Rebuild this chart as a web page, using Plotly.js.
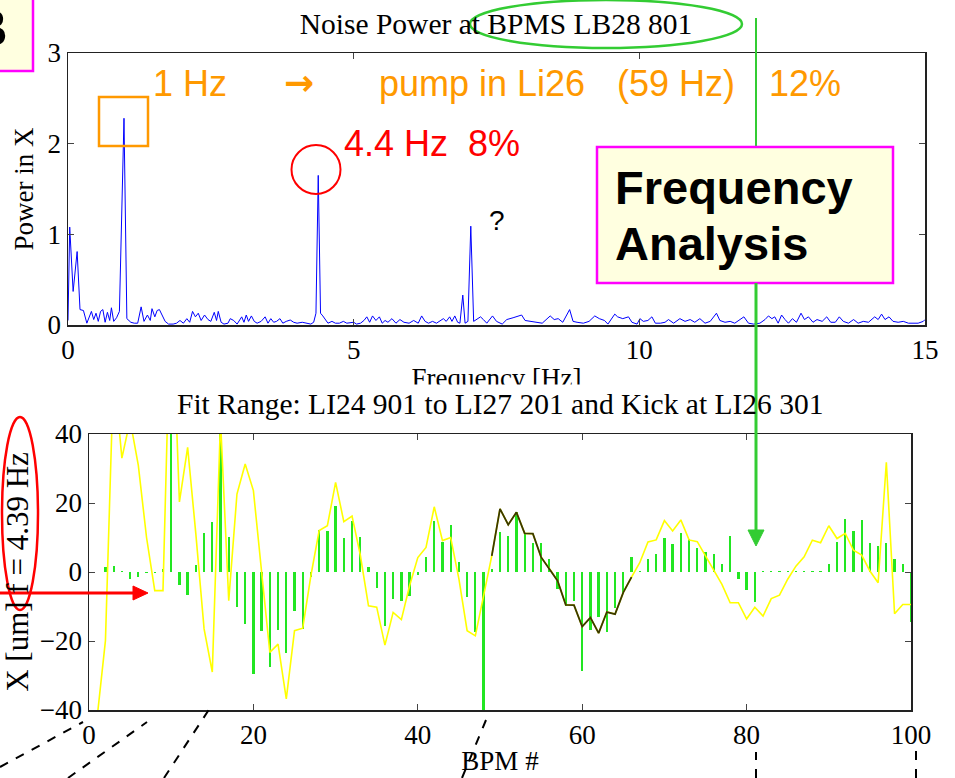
<!DOCTYPE html>
<html>
<head>
<meta charset="utf-8">
<script src="https://cdn.plot.ly/plotly-3.0.1.min.js"></script>
<style>html,body{margin:0;padding:0;background:#fff;}#chart{width:955px;height:778px;}</style>
</head>
<body>
<div id="chart"></div>
<script>
// ---- Top panel: noise power spectrum ----
const freqHz = [0.00,0.03,0.09,0.16,0.21,0.27,0.33,0.41,0.45,0.49,0.53,0.57,0.61,0.65,0.69,0.73,0.76,0.80,0.85,0.90,0.98,1.03,1.10,1.16,1.22,1.28,1.33,1.39,1.44,1.47,1.52,1.56,1.60,1.65,1.70,1.76,1.84,1.90,1.96,2.02,2.08,2.13,2.18,2.23,2.28,2.33,2.39,2.45,2.50,2.56,2.60,2.63,2.68,2.73,2.80,2.84,2.90,2.96,3.04,3.08,3.12,3.16,3.21,3.26,3.31,3.38,3.45,3.50,3.55,3.60,3.65,3.71,3.76,3.82,3.89,3.95,4.01,4.10,4.18,4.25,4.30,4.34,4.38,4.42,4.46,4.50,4.55,4.62,4.68,4.75,4.82,4.88,4.95,5.00,5.05,5.12,5.18,5.23,5.28,5.33,5.39,5.45,5.50,5.55,5.60,5.67,5.74,5.81,5.88,5.97,6.05,6.13,6.19,6.25,6.31,6.38,6.45,6.52,6.57,6.62,6.68,6.72,6.77,6.82,6.86,6.91,6.95,7.00,7.05,7.10,7.16,7.22,7.27,7.33,7.43,7.50,7.60,7.68,7.79,7.85,7.94,8.00,8.08,8.17,8.30,8.44,8.51,8.58,8.66,8.78,8.84,8.91,9.02,9.12,9.22,9.30,9.39,9.45,9.57,9.62,9.71,9.81,9.87,9.96,10.01,10.07,10.15,10.22,10.28,10.37,10.45,10.51,10.60,10.71,10.80,10.89,10.97,11.06,11.15,11.24,11.35,11.41,11.50,11.59,11.67,11.83,11.91,12.00,12.11,12.20,12.26,12.32,12.37,12.43,12.49,12.55,12.61,12.68,12.75,12.83,12.89,12.96,13.04,13.11,13.20,13.28,13.35,13.43,13.50,13.57,13.66,13.75,13.83,13.92,14.01,14.12,14.18,14.24,14.30,14.37,14.44,14.53,14.62,14.71,14.80,14.88,14.97,15.00];
const powerX = [0.05,1.08,0.37,0.81,0.17,0.16,0.02,0.15,0.06,0.13,0.04,0.15,0.17,0.03,0.14,0.05,0.19,0.04,0.08,0.15,2.28,0.07,0.03,0.02,0.02,0.20,0.04,0.11,0.05,0.18,0.09,0.16,0.17,0.10,0.04,0.01,0.01,0.02,0.05,0.02,0.07,0.03,0.15,0.09,0.13,0.05,0.11,0.06,0.04,0.14,0.05,0.15,0.03,0.01,0.02,0.07,0.05,0.01,0.09,0.03,0.11,0.04,0.10,0.04,0.02,0.04,0.09,0.02,0.07,0.03,0.04,0.07,0.02,0.04,0.055,0.03,0.02,0.03,0.02,0.01,0.03,0.13,1.65,0.13,0.10,0.06,0.02,0.04,0.02,0.02,0.04,0.02,0.03,0.03,0.01,0.02,0.05,0.09,0.03,0.10,0.05,0.09,0.02,0.05,0.03,0.07,0.02,0.06,0.03,0.02,0.05,0.02,0.10,0.04,0.02,0.04,0.02,0.05,0.07,0.04,0.09,0.04,0.10,0.03,0.02,0.33,0.02,0.04,1.09,0.04,0.07,0.09,0.06,0.02,0.10,0.04,0.01,0.06,0.08,0.09,0.11,0.05,0.04,0.03,0.02,0.10,0.06,0.07,0.03,0.17,0.04,0.03,0.02,0.04,0.10,0.07,0.05,0.01,0.12,0.09,0.07,0.09,0.03,0.01,0.07,0.04,0.05,0.09,0.02,0.02,0.03,0.06,0.02,0.07,0.04,0.06,0.03,0.07,0.02,0.04,0.13,0.05,0.03,0.04,0.02,0.09,0.02,0.01,0.02,0.06,0.10,0.07,0.09,0.02,0.11,0.06,0.02,0.07,0.03,0.13,0.06,0.09,0.03,0.06,0.04,0.09,0.03,0.03,0.09,0.04,0.02,0.06,0.02,0.04,0.03,0.09,0.06,0.12,0.06,0.09,0.04,0.03,0.04,0.02,0.02,0.02,0.04,0.06];
const freqTicks = [0,5,10,15];
const powerTicks = [0,1,2,3];

// ---- Bottom panel: orbit at f = 4.39 Hz ----
const bpmNum = [1,2,3,4,5,6,7,8,9,10,11,12,13,14,15,16,17,18,19,20,21,22,23,24,25,26,27,28,29,30,31,32,33,34,35,36,37,38,39,40,41,42,43,44,45,46,47,48,49,50,51,52,53,54,55,56,57,58,59,60,61,62,63,64,65,66,67,68,69,70,71,72,73,74,75,76,77,78,79,80,81,82,83,84,85,86,87,88,89,90,91,92,93,94,95,96,97,98,99,100];
const orbitX = [-42,-19.9,58.9,33,44,30.9,10,-5.4,-5.4,85,20.3,36.1,11,-16.5,-29,44,-8.3,22.6,31.3,23.6,0,-23.3,-20.9,-36.8,-17,-16.3,-1,12,13.4,26,14.6,16.2,5,-9.8,-10.2,-21.2,-11.7,-13.8,-4,4.2,7.1,18.9,9.1,10,-2,-17,-18.5,-7,4.7,18.3,13.7,17.3,11.2,11.1,4.3,1,-2.5,-9.5,-9.6,-15.8,-13.2,-17.7,-11.6,-12.2,-5.9,-1.5,2.7,8.7,9.3,14.9,11.9,15.1,9.3,8.8,4.7,0.3,-3.6,-8.9,-8.9,-13.6,-10.2,-12.8,-7.7,-6.7,-2.1,1.7,4.4,9.2,8.5,13.4,9.7,11.2,6.3,4.9,0.3,-3.1,31.8,-12.1,-9.4,-9.4];
const stemX = [0,1.5,1.7,0.3,-2,-1.5,-0.3,-0.3,1,60,-3.8,-6.7,2,11.3,14.5,60,10.2,-10.2,-15,-29.6,-17,-27.4,-16.7,-23.5,-11.2,-16.4,-1.5,12.1,11.8,19.2,10,14.9,10.2,1.5,-4.6,-15.7,-7.7,-8.4,-7,-1,4.4,14.9,8.8,13.6,3,-7.3,-17.4,-60,1,11.5,10.5,17.3,11,8.3,8.5,3.7,-4.8,-9.9,-8.4,-28.6,-16.7,-13.1,-17.4,-10.4,-6,4.4,0.3,3.7,5.1,10,8,11.3,9.5,6.9,5.9,5.1,2.2,10.5,-2.1,-5.3,-8.7,0.4,0.4,0.4,0.4,0.4,0.4,0.4,0.4,2.4,8.8,15.5,11.9,15.1,8.3,7.6,8.3,3.9,2.4,-14.5];
const fitBpm = [49,50,51,52,53,54,55,56,57,58,59,60,61,62,63,64,65,66];
const fitX = [4.7,18.3,13.7,17.3,11.2,11.1,4.3,1,-2.5,-9.5,-9.6,-15.8,-13.2,-17.7,-11.6,-12.2,-5.9,-1.5];
const bpmTicks = [0,20,40,60,80,100];
const xTicks = [-40,-20,0,20,40];

// ---- helpers: pixel -> paper ----
const W = 955, H = 778;
const PX = p => p / W;
const PY = p => 1 - p / H;

const SERIF = 'Liberation Serif, Times New Roman, serif';
const SANS = 'Liberation Sans, Arial, sans-serif';

const traces = [
  {type:'scatter', mode:'lines', x:freqHz, y:powerX, xaxis:'x', yaxis:'y',
   line:{color:'#0000ff', width:1}, hoverinfo:'x+y'},
  {type:'bar', x:bpmNum, y:stemX, xaxis:'x2', yaxis:'y2', width:0.28,
   marker:{color:'#22e622', line:{width:0}}},
  {type:'scatter', mode:'lines', x:bpmNum, y:orbitX, xaxis:'x2', yaxis:'y2',
   line:{color:'#ffff00', width:1.6}},
  {type:'scatter', mode:'lines', x:fitBpm, y:fitX, xaxis:'x2', yaxis:'y2',
   line:{color:'#3a3800', width:1.8}}
];

const axCommon = {
  showline:true, mirror:'ticks', linecolor:'#222', linewidth:1.5,
  ticks:'inside', ticklen:6, tickwidth:1, tickcolor:'#444',
  showgrid:false, zeroline:false, fixedrange:true,
  tickfont:{family:SERIF, size:27, color:'#000'}
};

const layout = {
  width:W, height:H, margin:{l:0, r:0, t:0, b:0},
  paper_bgcolor:'#fff', plot_bgcolor:'#fff', showlegend:false, bargap:0,
  title:{text:'Noise Power at BPMS LB28 801', x:PX(496), xanchor:'center', xref:'paper',
         y:PY(24), yanchor:'middle', yref:'container', font:{family:SERIF, size:29.5, color:'#000'}},
  xaxis: Object.assign({}, axCommon, {domain:[PX(68), PX(925)], anchor:'y', range:[0,15],
         tickvals:freqTicks, ticktext:freqTicks.map(String),
         title:{text:'Frequency [Hz]', font:{family:SERIF, size:27, color:'#000'}, standoff:4}}),
  yaxis: Object.assign({}, axCommon, {domain:[PY(325), PY(53)], anchor:'x', range:[0,3],
         tickvals:powerTicks, ticktext:powerTicks.map(String),
         title:{text:'Power in X', font:{family:SERIF, size:27, color:'#000'}, standoff:6}}),
  xaxis2: Object.assign({}, axCommon, {domain:[PX(89), PX(911)], anchor:'y2', range:[0,100],
         tickvals:bpmTicks, ticktext:bpmTicks.map(String),
         title:{text:'BPM #', font:{family:SERIF, size:27, color:'#000'}, standoff:2}}),
  yaxis2: Object.assign({}, axCommon, {domain:[PY(710), PY(434)], anchor:'x2', range:[-40,40],
         tickvals:xTicks,
         title:{text:'X [um] f = 4.39 Hz', font:{family:SERIF, size:31, color:'#000'}, standoff:3}}),
  shapes: [
    // "B" label box
    {type:'rect', xref:'paper', yref:'paper', x0:PX(-10), x1:PX(33), y0:PY(71), y1:PY(-10),
     line:{color:'#ff00ff', width:2.5}, fillcolor:'#ffffe0', layer:'below'},
    // orange square around 1 Hz peak
    {type:'rect', xref:'paper', yref:'paper', x0:PX(99), x1:PX(148), y0:PY(146), y1:PY(97),
     line:{color:'#ff9900', width:2.5}},
    // red circle around 4.4 Hz peak
    {type:'circle', xref:'paper', yref:'paper', x0:PX(291.5), x1:PX(340.5), y0:PY(194), y1:PY(145),
     line:{color:'#ff0000', width:2}},
    // green ellipse around BPM name
    {type:'circle', xref:'paper', yref:'paper', x0:PX(470), x1:PX(742), y0:PY(48), y1:PY(0),
     line:{color:'#33cc33', width:2.5}},
    // green connector line (upper)
    {type:'line', xref:'paper', yref:'paper', x0:PX(756), x1:PX(756), y0:PY(18), y1:PY(147),
     line:{color:'#33cc33', width:2}},
    // Frequency Analysis box
    {type:'rect', xref:'paper', yref:'paper', x0:PX(597), x1:PX(893), y0:PY(283), y1:PY(147),
     line:{color:'#ff00ff', width:2.5}, fillcolor:'#ffffe0'},
    // green connector line (lower) + arrowhead
    {type:'line', xref:'paper', yref:'paper', x0:PX(756), x1:PX(756), y0:PY(283), y1:PY(532),
     line:{color:'#33cc33', width:3}},
    {type:'path', xref:'paper', yref:'paper',
     path:`M ${PX(748)} ${PY(530)} L ${PX(764)} ${PY(530)} L ${PX(756)} ${PY(546)} Z`,
     fillcolor:'#33cc33', line:{color:'#33cc33', width:1}},
    // red ellipse around f = 4.39 Hz
    {type:'circle', xref:'paper', yref:'paper', x0:PX(2), x1:PX(38), y0:PY(610), y1:PY(417),
     line:{color:'#ff0000', width:2.5}},
    // red arrow
    {type:'line', xref:'paper', yref:'paper', x0:PX(0), x1:PX(135), y0:PY(593), y1:PY(593),
     line:{color:'#ff0000', width:3}},
    {type:'path', xref:'paper', yref:'paper',
     path:`M ${PX(133)} ${PY(586)} L ${PX(148)} ${PY(593)} L ${PX(133)} ${PY(600)} Z`,
     fillcolor:'#ff0000', line:{color:'#ff0000', width:1}},
    // dashed leader lines at the bottom
    {type:'line', xref:'paper', yref:'paper', x0:PX(0), x1:PX(83), y0:PY(767), y1:PY(722),
     line:{color:'#000', width:2, dash:'dash'}},
    {type:'line', xref:'paper', yref:'paper', x0:PX(68), x1:PX(147), y0:PY(778), y1:PY(722),
     line:{color:'#000', width:2, dash:'dash'}},
    {type:'line', xref:'paper', yref:'paper', x0:PX(164), x1:PX(212), y0:PY(778), y1:PY(705),
     line:{color:'#000', width:2, dash:'dash'}},
    {type:'line', xref:'paper', yref:'paper', x0:PX(462), x1:PX(486), y0:PY(778), y1:PY(720),
     line:{color:'#000', width:2, dash:'dash'}},
    {type:'line', xref:'paper', yref:'paper', x0:PX(756), x1:PX(756), y0:PY(778), y1:PY(752),
     line:{color:'#000', width:2, dash:'dash'}},
    {type:'line', xref:'paper', yref:'paper', x0:PX(916), x1:PX(916), y0:PY(778), y1:PY(746),
     line:{color:'#000', width:2, dash:'dash'}}
  ],
  annotations: [
    {text:'<b>B</b>', xref:'paper', yref:'paper', x:PX(10), y:PY(28), xanchor:'right', yanchor:'middle',
     showarrow:false, font:{family:SANS, size:52, color:'#000'}},
    {text:'1 Hz', xref:'paper', yref:'paper', x:PX(151), y:PY(84), xanchor:'left', yanchor:'middle',
     showarrow:false, font:{family:SANS, size:36, color:'#ff9900'}},
    {text:'<b>\u2192</b>', xref:'paper', yref:'paper', x:PX(282), y:PY(82), xanchor:'left', yanchor:'middle',
     showarrow:false, font:{family:'DejaVu Sans, sans-serif', size:36, color:'#ff9900'}},
    {text:'pump in Li26', xref:'paper', yref:'paper', x:PX(377), y:PY(84), xanchor:'left', yanchor:'middle',
     showarrow:false, font:{family:SANS, size:36, color:'#ff9900'}},
    {text:'(59 Hz)', xref:'paper', yref:'paper', x:PX(615), y:PY(84), xanchor:'left', yanchor:'middle',
     showarrow:false, font:{family:SANS, size:36, color:'#ff9900'}},
    {text:'12%', xref:'paper', yref:'paper', x:PX(767), y:PY(84), xanchor:'left', yanchor:'middle',
     showarrow:false, font:{family:SANS, size:36, color:'#ff9900'}},
    {text:'4.4 Hz  8%', xref:'paper', yref:'paper', x:PX(342), y:PY(143), xanchor:'left', yanchor:'middle',
     showarrow:false, font:{family:SANS, size:36, color:'#ff0000'}},
    {text:'?', xref:'paper', yref:'paper', x:PX(497), y:PY(220), xanchor:'center', yanchor:'middle',
     showarrow:false, font:{family:SANS, size:28, color:'#000'}},
    {text:'<b>Frequency</b>', xref:'paper', yref:'paper', x:PX(613), y:PY(188), xanchor:'left', yanchor:'middle',
     showarrow:false, font:{family:SANS, size:47, color:'#000'}},
    {text:'<b>Analysis</b>', xref:'paper', yref:'paper', x:PX(613), y:PY(243), xanchor:'left', yanchor:'middle',
     showarrow:false, font:{family:SANS, size:47, color:'#000'}},
    // white patch hiding the lower part of the x-axis title, as in the reference
    {text:' ', xref:'paper', yref:'paper', x:PX(497), y:PY(392), xanchor:'center', yanchor:'middle',
     width:220, height:14, borderpad:0, bgcolor:'#ffffff', showarrow:false, font:{size:10}},
    {text:'Fit Range: LI24 901 to LI27 201 and Kick at LI26 301', xref:'paper', yref:'paper',
     x:PX(500), y:PY(404), xanchor:'center', yanchor:'middle', showarrow:false,
     font:{family:SERIF, size:29.5, color:'#000'}}
  ]
};

Plotly.newPlot('chart', traces, layout, {displayModeBar:false, staticPlot:true});
</script>
</body>
</html>
